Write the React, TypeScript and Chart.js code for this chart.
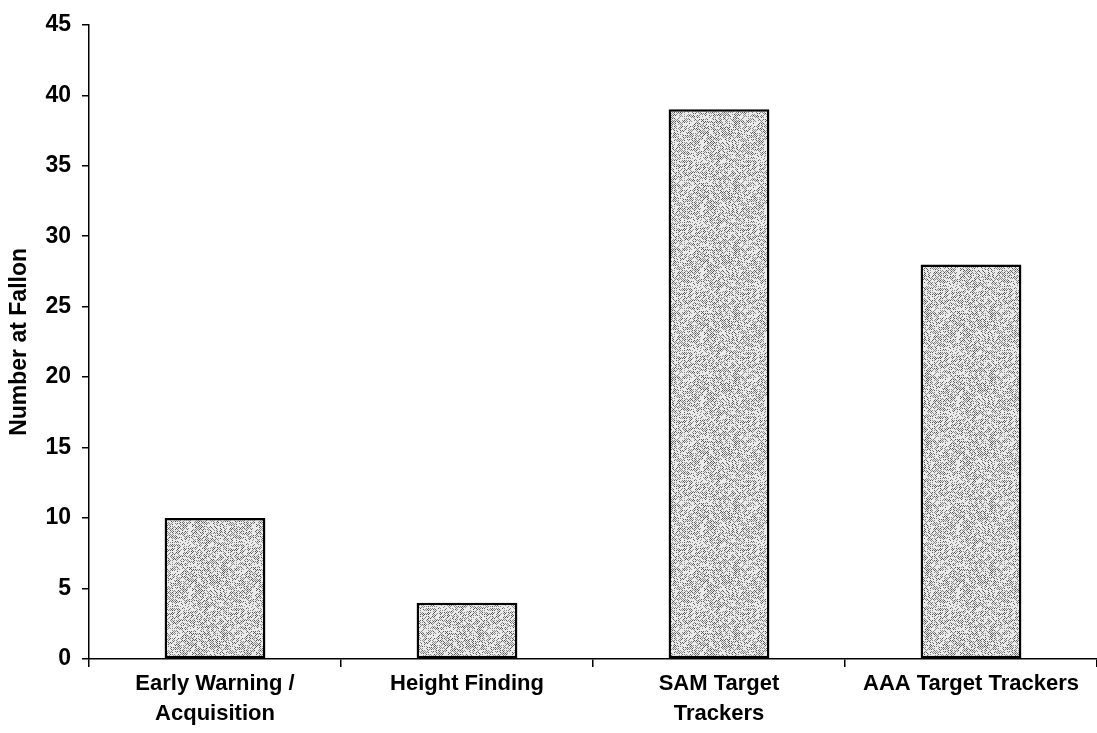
import React, { useEffect, useRef } from "react";
import { Chart, registerables } from "chart.js";

Chart.register(...registerables);

const categories: string[][] = [
  ["Early Warning /", "Acquisition"],
  ["Height Finding"],
  ["SAM Target", "Trackers"],
  ["AAA Target Trackers"],
];
const values: number[] = [10, 4, 39, 28];
const yTicks: number[] = [0, 5, 10, 15, 20, 25, 30, 35, 40, 45];
const yTitle = "Number at Fallon";

const FONT = "'Liberation Sans', Arial, Helvetica, sans-serif";

function hash(x: number, y: number): number {
  let h = (x * 374761393 + y * 668265263) | 0;
  h = Math.imul(h ^ (h >>> 13), 1274126177);
  h = h ^ (h >>> 16);
  return (h >>> 0) / 4294967296;
}

function makePattern(): CanvasPattern | string {
  const N = 64;
  const c = document.createElement("canvas");
  c.width = N;
  c.height = N;
  const g = c.getContext("2d");
  if (!g) return "#bdbdbd";
  g.fillStyle = "#ebebeb";
  g.fillRect(0, 0, N, N);
  for (let y = 0; y < N; y++) {
    for (let x = 0; x < N; x++) {
      const h = hash(x, y);
      const checker = (x + y) % 2 === 0;
      if (checker && h < 0.62) {
        g.fillStyle = h < 0.25 ? "#555555" : "#8a8a8a";
        g.fillRect(x, y, 1, 1);
      }
    }
  }
  return g.createPattern(c, "repeat") || "#bdbdbd";
}

export default function App() {
  const ref = useRef<HTMLCanvasElement | null>(null);

  useEffect(() => {
    if (!ref.current) return;
    const pattern = makePattern();
    const chart = new Chart(ref.current, {
      type: "bar",
      data: {
        labels: categories,
        datasets: [
          {
            data: values,
            backgroundColor: pattern as any,
            borderColor: "#000000",
            borderWidth: 2.5,
            borderSkipped: false,
            categoryPercentage: 1,
            barPercentage: 0.4,
          },
        ],
      },
      options: {
        animation: false,
        responsive: false,
        devicePixelRatio: 1,
        layout: { padding: { top: 21, left: 0, right: 0, bottom: 0 } },
        plugins: {
          legend: { display: false },
          tooltip: { enabled: false },
        },
        scales: {
          x: {
            grid: {
              display: true,
              drawOnChartArea: false,
              drawTicks: true,
              tickLength: 8,
              color: "#000000",
              lineWidth: 1.5,
            },
            border: { display: true, color: "#000000", width: 1.5 },
            ticks: {
              color: "#000000",
              padding: 2,
              maxRotation: 0,
              autoSkip: false,
              font: { family: FONT, size: 22, weight: "bold", lineHeight: 30 / 22 },
            },
            afterFit: (scale: any) => {
              scale.height = 74;
            },
          },
          y: {
            min: 0,
            max: 45,
            afterBuildTicks: (scale: any) => {
              scale.ticks = yTicks.map((v) => ({ value: v }));
            },
            grid: {
              display: true,
              drawOnChartArea: false,
              drawTicks: true,
              tickLength: 7,
              color: "#000000",
              lineWidth: 1.5,
            },
            border: { display: true, color: "#000000", width: 1.5 },
            ticks: {
              color: "#000000",
              padding: 11,
              font: { family: FONT, size: 23, weight: "bold" },
            },
            title: {
              display: true,
              text: yTitle,
              color: "#000000",
              padding: { top: 6, bottom: 0 },
              font: { family: FONT, size: 23, weight: "bold" },
            },
            afterFit: (scale: any) => {
              scale.width = 89;
            },
          },
        },
      },
    });
    return () => chart.destroy();
  }, []);

  return (
    <div style={{ position: "fixed", left: 0, top: 0, width: 1097, height: 733, background: "#ffffff" }}>
      <canvas ref={ref} width={1097} height={733} style={{ display: "block", width: 1097, height: 733 }} />
    </div>
  );
}
